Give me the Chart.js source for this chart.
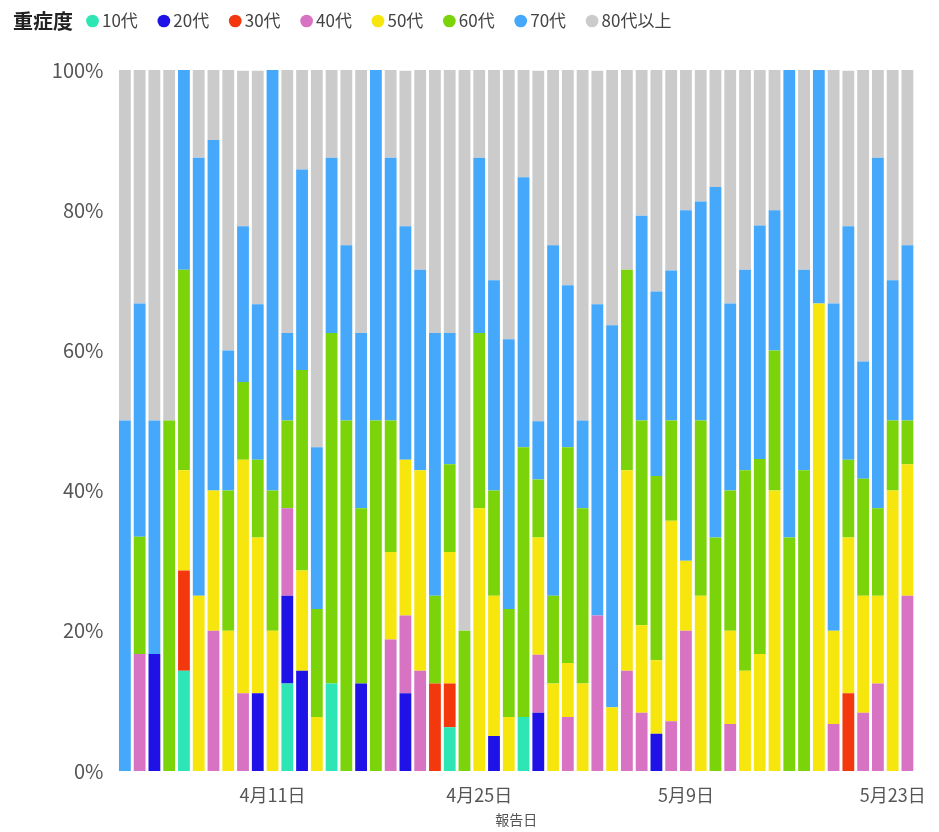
<!DOCTYPE html>
<html><head><meta charset="utf-8">
<script src="https://cdn.jsdelivr.net/npm/chart.js@4/dist/chart.umd.min.js"></script>
<style>html,body{margin:0;padding:0;background:#fff;}#wrap{width:939px;height:832px;}</style>
</head><body><div id="wrap"><canvas id="c" width="939" height="832"></canvas></div>
<script>
// ---- data ----
const dates = ['4月1日','4月2日','4月3日','4月4日','4月5日','4月6日','4月7日','4月8日','4月9日','4月10日',
'4月11日','4月12日','4月13日','4月14日','4月15日','4月16日','4月17日','4月18日','4月19日','4月20日',
'4月21日','4月22日','4月23日','4月24日','4月25日','4月26日','4月27日','4月28日','4月29日','4月30日',
'5月1日','5月2日','5月3日','5月4日','5月5日','5月6日','5月7日','5月8日','5月9日','5月10日',
'5月11日','5月12日','5月13日','5月14日','5月15日','5月16日','5月17日','5月18日','5月19日','5月20日',
'5月21日','5月22日','5月23日','5月24日'];
const shownTicks = ['4月11日','4月25日','5月9日','5月23日'];
const yTicks = [0,20,40,60,80,100];
const seriesNames = ['10代','20代','30代','40代','50代','60代','70代','80代以上'];
const legendTitle = '重症度';
const xTitle = '報告日';

const s10 = [0,0,0,0,14.3,0,0,0,0,0, 0,12.5,0,0,12.5,0,0,0,0,0, 0,0,6.25,0,0,0,0,7.7,0,0, 0,0,0,0,0,0,0,0,0,0, 0,0,0,0,0,0,0,0,0,0, 0,0,0,0];
const s20 = [0,0,16.7,0,0,0,0,0,0,11.1, 0,12.5,14.3,0,0,0,12.5,0,0,11.1, 0,0,0,0,0,5,0,0,8.3,0, 0,0,0,0,0,0,5.3,0,0,0, 0,0,0,0,0,0,0,0,0,0, 0,0,0,0];
const s30 = [0,0,0,0,14.3,0,0,0,0,0, 0,0,0,0,0,0,0,0,0,0, 0,12.5,6.25,0,0,0,0,0,0,0, 0,0,0,0,0,0,0,0,0,0, 0,0,0,0,0,0,0,0,0,11.1, 0,0,0,0];
const s40 = [0,16.7,0,0,0,0,20,0,11.1,0, 0,12.5,0,0,0,0,0,0,18.75,11.1, 14.3,0,0,0,0,0,0,0,8.3,0, 7.7,0,22.2,0,14.3,8.3,0,7.1,20,0, 0,6.7,0,0,0,0,0,0,6.7,0, 8.3,12.5,0,25];
const s50 = [0,0,0,0,14.3,25,20,20,33.3,22.2, 20,0,14.3,7.7,0,0,0,0,12.5,22.2, 28.6,0,18.75,0,37.5,20,7.7,0,16.7,12.5, 7.7,12.5,0,9.1,28.6,12.5,10.5,28.6,10,25, 0,13.3,14.3,16.7,40,0,0,66.7,13.3,22.2, 16.7,12.5,40,18.75];
const s60 = [0,16.7,0,50,28.6,0,0,20,11.1,11.1, 20,12.5,28.6,15.4,50,50,25,50,18.75,0, 0,12.5,12.5,20,25,15,15.4,38.5,8.3,12.5, 30.8,25,0,0,28.6,29.2,26.3,14.3,0,25, 33.3,20,28.6,27.8,20,33.3,42.9,0,0,11.1, 16.7,12.5,10,6.25];
const s70 = [50,33.3,33.3,0,28.6,62.5,50,20,22.2,22.2, 60,12.5,28.6,23.1,25,25,25,50,37.5,33.3, 28.6,37.5,18.75,0,25,30,38.5,38.5,8.3,50, 23.1,12.5,44.4,54.5,0,29.2,26.3,21.4,50,31.25, 50,26.7,28.6,33.3,20,66.7,28.6,33.3,46.7,33.3, 16.7,50,20,25];
const s80 = [50,33.3,50,50,0,12.5,10,40,22.2,33.3, 0,37.5,14.3,53.8,12.5,25,37.5,0,12.5,22.2, 28.6,37.5,37.5,80,12.5,30,38.5,15.4,50,25, 30.8,50,33.3,36.4,28.6,20.8,31.6,28.6,20,18.75, 16.7,33.3,28.6,22.2,20,0,28.6,0,33.3,22.2, 41.7,12.5,30,25];

// ---- style ----
const colors = ['#2DE5B5','#1E12E6','#F4380E','#D873C3','#F7E60D','#7BD30A','#45A8FA','#CBCBCB'];
const FONT = "'Noto Sans CJK JP', 'Noto Sans', sans-serif";
const seriesData = [s10,s20,s30,s40,s50,s60,s70,s80];

const legendHack = {
  id: 'legendHack',
  afterInit(chart) {
    const lg = chart.legend;
    const fit = lg.fit;
    lg.fit = function () { fit.call(this); this.height = 70; };
  },
  afterLayout(chart) {
    const lg = chart.legend;
    lg.left = 66.5; lg.right = 939;
    lg.top = -12.5;
  },
  afterDraw(chart) {
    const ctx = chart.ctx;
    ctx.save();
    ctx.font = "bold 20px " + FONT;
    ctx.fillStyle = '#222';
    ctx.textBaseline = 'middle';
    ctx.textAlign = 'left';
    ctx.fillText(legendTitle, 13, 21);
    ctx.restore();
  }
};

new Chart(document.getElementById('c'), {
  type: 'bar',
  data: {
    labels: dates,
    datasets: seriesNames.map((n, i) => ({
      label: n, data: seriesData[i], backgroundColor: colors[i],
      borderWidth: 0, categoryPercentage: 1.0, barPercentage: 0.8
    }))
  },
  options: {
    responsive: false, animation: false, devicePixelRatio: 1,
    layout: { padding: { left: 0, right: 13, top: 0, bottom: 0 } },
    plugins: {
      legend: {
        position: 'top', align: 'start',
        labels: { usePointStyle: true, pointStyle: 'circle', boxWidth: 2, boxHeight: 9,
          padding: 25, color: '#444', font: { family: FONT, size: 17 } }
      },
      tooltip: { enabled: false }
    },
    scales: {
      x: {
        stacked: true,
        grid: { display: false, drawTicks: false }, border: { display: false },
        ticks: { autoSkip: false, maxRotation: 0, minRotation: 0, padding: 13, color: '#555',
          font: { family: FONT, size: 18 },
          callback: function (v, i) { const l = dates[i]; return shownTicks.includes(l) ? l : null; } },
        title: { display: true, text: xTitle, color: '#555', font: { family: FONT, size: 14 }, padding: { top: 0, bottom: 4 } },
        afterFit(s) { s.height = 61; }
      },
      y: {
        stacked: true, min: 0, max: 100,
        grid: { display: false, drawTicks: false }, border: { display: false },
        afterBuildTicks(s) { s.ticks = yTicks.map(v => ({ value: v })); },
        ticks: { padding: 14, color: '#555', font: { family: FONT, size: 20 }, callback: v => v + '%' },
        afterFit(s) { s.width = 117.5; }
      }
    }
  },
  plugins: [legendHack]
});
</script></body></html>
